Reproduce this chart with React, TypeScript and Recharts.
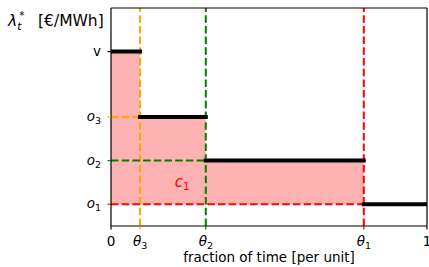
import {
  ComposedChart,
  XAxis,
  YAxis,
  ReferenceArea,
  ReferenceLine,
  ReferenceDot,
} from "recharts";

// fractions of time where the price steps down (theta_3, theta_2, theta_1)
const thetas = [0.092, 0.3, 0.8];
// offer prices at those steps (o_3, o_2, o_1); v is the value of lost load
const offers = [3, 2, 1];

// price duration curve, step by step
const stepStarts = [0, 0.092, 0.3, 0.8];
const stepEnds = [0.092, 0.3, 0.8, 1];
const stepPrices = [4.5, 3, 2, 1];

const xTicks = [0, 0.092, 0.3, 0.8, 1];
const xTickLabels = [["0", ""], ["θ", "3"], ["θ", "2"], ["θ", "1"], ["1", ""]];
const yTicks = [1, 2, 3, 4.5];
const yTickLabels = [["o", "1"], ["o", "2"], ["o", "3"], ["v", ""]];

const guideColors = ["#FFA500", "#008000", "#FF0000"];
const xTickColors = ["#000", "#FFA500", "#008000", "#FF0000", "#000"];
const yTickColors = ["#FF0000", "#008000", "#FFA500", "#000"];

const FONT = "DejaVu Sans";
const DASH = "7.5 3.2";

function XTick(props: any) {
  const { x, y, payload } = props;
  const i = xTicks.indexOf(payload.value);
  const [main, sub] = xTickLabels[i] || [String(payload.value), ""];
  return (
    <g>
      <line x1={x} x2={x} y1={y} y2={y + 3.5} stroke={xTickColors[i]} strokeWidth={1.2} />
      <text x={x} y={y + 19.5} textAnchor="middle" fontFamily={FONT} fontSize={13.5} fill="#000">
        <tspan fontStyle={sub ? "italic" : "normal"}>{main}</tspan>
        {sub && (
          <tspan fontSize={9.5} dy={3}>
            {sub}
          </tspan>
        )}
      </text>
    </g>
  );
}

function YTick(props: any) {
  const { x, y, payload } = props;
  const i = yTicks.indexOf(payload.value);
  const [main, sub] = yTickLabels[i] || [String(payload.value), ""];
  return (
    <g>
      <line x1={x - 3.5} x2={x} y1={y} y2={y} stroke={yTickColors[i]} strokeWidth={1.2} />
      <text x={x - 10} y={y + 4} textAnchor="end" fontFamily={FONT} fontSize={13.5} fill="#000">
        <tspan fontStyle={sub ? "italic" : "normal"}>{main}</tspan>
        {sub && (
          <tspan fontSize={9.5} dy={3}>
            {sub}
          </tspan>
        )}
      </text>
    </g>
  );
}

function YLabel() {
  return (
    <text x={8} y={26} fontFamily={FONT} fontSize={15.5} fill="#000">
      <tspan fontStyle="italic">λ</tspan>
      <tspan fontSize={10.5} fontStyle="italic" dy={4}>t</tspan>
      <tspan fontSize={10.5} dx={-2} dy={-11}>*</tspan>
      <tspan x={38} dy={7}>[€/MWh]</tspan>
    </text>
  );
}

function CostLabel(props: any) {
  const { cx, cy } = props;
  return (
    <text x={cx} y={cy + 5} textAnchor="middle" fontFamily={FONT} fontSize={15} fill="#FF0000">
      <tspan fontStyle="italic">c</tspan>
      <tspan fontSize={10.5} dy={3}>1</tspan>
    </text>
  );
}

export default function App() {
  return (
    <div style={{ width: 429, height: 267 }}>
      <style>{`body{margin:0}`}</style>
      <ComposedChart
        width={429}
        height={267}
        margin={{ top: 8, right: 2, bottom: 0, left: 0 }}
        style={{ fontFamily: FONT }}
      >
        <XAxis
          type="number"
          dataKey="x"
          domain={[0, 1]}
          ticks={xTicks}
          tick={<XTick />}
          tickLine={false}
          tickSize={0}
          tickMargin={0}
          height={41}
          axisLine={{ stroke: "#000", strokeWidth: 1.2 }}
          interval={0}
          allowDataOverflow
        />
        <YAxis
          type="number"
          domain={[0.5, 5.5]}
          ticks={yTicks}
          tick={<YTick />}
          tickLine={false}
          tickSize={0}
          tickMargin={0}
          width={111}
          axisLine={{ stroke: "#000", strokeWidth: 1.2 }}
          interval={0}
          allowDataOverflow
          label={{ content: () => <YLabel /> }}
        />

        {stepPrices.slice(0, 3).map((p, i) => (
          <ReferenceArea
            key={`fill-${i}`}
            x1={stepStarts[i]}
            x2={stepEnds[i]}
            y1={offers[2]}
            y2={p}
            fill="#FFB2B2"
            fillOpacity={1}
            stroke="none"
            ifOverflow="hidden"
          />
        ))}

        {thetas.map((t, i) => (
          <ReferenceLine
            key={`v-${i}`}
            x={t}
            stroke={guideColors[i]}
            strokeWidth={2}
            strokeDasharray={DASH}
          />
        ))}
        {thetas.map((t, i) => (
          <ReferenceLine
            key={`h-${i}`}
            segment={[
              { x: 0, y: offers[i] },
              { x: t, y: offers[i] },
            ]}
            stroke={guideColors[i]}
            strokeWidth={2}
            strokeDasharray={DASH}
            ifOverflow="hidden"
          />
        ))}

        {stepPrices.map((p, i) => (
          <ReferenceLine
            key={`step-${i}`}
            segment={[
              { x: stepStarts[i], y: p },
              { x: stepEnds[i], y: p },
            ]}
            stroke="#000"
            strokeWidth={4}
            strokeLinecap="square"
            ifOverflow="hidden"
          />
        ))}

        <ReferenceLine y={5.5} stroke="#000" strokeWidth={1.2} />
        <ReferenceLine x={1} stroke="#000" strokeWidth={1.2} />

        <ReferenceDot x={0.225} y={1.5} r={0} shape={<CostLabel />} />

        <text x={269} y={262} textAnchor="middle" fontFamily={FONT} fontSize={13.5} fill="#000">
          fraction of time [per unit]
        </text>
      </ComposedChart>
    </div>
  );
}
